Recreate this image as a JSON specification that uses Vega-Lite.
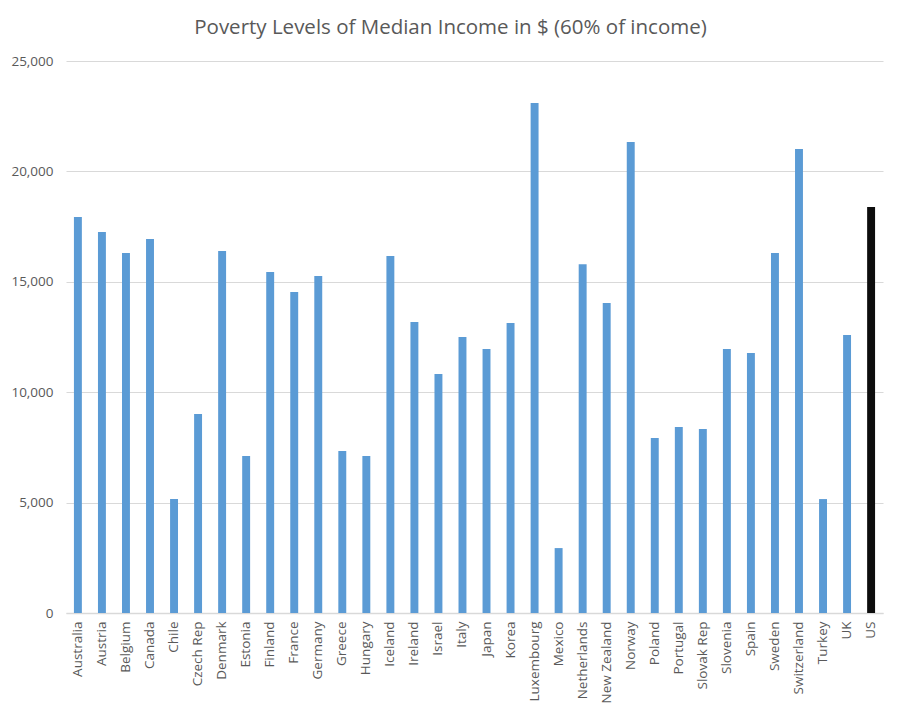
{
  "$schema": "https://vega.github.io/schema/vega-lite/v6.json",
  "autosize": {"type": "none"},
  "padding": {"left": 66, "top": 61, "right": 17, "bottom": 107},
  "width": 817,
  "height": 552,
  "background": "white",
  "title": {
    "text": "Poverty Levels of Median Income in $ (60% of income)",
    "font": "Open Sans",
    "fontSize": 20.5,
    "fontWeight": "normal",
    "color": "#595959",
    "anchor": "middle",
    "dx": -24,
    "offset": 16
  },
  "config": {
    "view": {"stroke": null},
    "axis": {"labelFont": "Open Sans", "labelColor": "#595959", "labelFontSize": 13.5}
  },
  "data": {
    "values": [
      {"country": "Australia", "value": 17930},
      {"country": "Austria", "value": 17260},
      {"country": "Belgium", "value": 16300},
      {"country": "Canada", "value": 16940},
      {"country": "Chile", "value": 5160},
      {"country": "Czech Rep", "value": 9010},
      {"country": "Denmark", "value": 16400},
      {"country": "Estonia", "value": 7110},
      {"country": "Finland", "value": 15440},
      {"country": "France", "value": 14540},
      {"country": "Germany", "value": 15260},
      {"country": "Greece", "value": 7340},
      {"country": "Hungary", "value": 7110},
      {"country": "Iceland", "value": 16170},
      {"country": "Ireland", "value": 13180},
      {"country": "Israel", "value": 10820},
      {"country": "Italy", "value": 12500},
      {"country": "Japan", "value": 11960},
      {"country": "Korea", "value": 13130},
      {"country": "Luxembourg", "value": 23100},
      {"country": "Mexico", "value": 2940},
      {"country": "Netherlands", "value": 15800},
      {"country": "New Zealand", "value": 14040},
      {"country": "Norway", "value": 21330},
      {"country": "Poland", "value": 7930},
      {"country": "Portugal", "value": 8420},
      {"country": "Slovak Rep", "value": 8330},
      {"country": "Slovenia", "value": 11960},
      {"country": "Spain", "value": 11780},
      {"country": "Sweden", "value": 16300},
      {"country": "Switzerland", "value": 21010},
      {"country": "Turkey", "value": 5160},
      {"country": "UK", "value": 12590},
      {"country": "US", "value": 18390}
    ]
  },
  "mark": {"type": "bar"},
  "encoding": {
    "x": {
      "field": "country",
      "type": "nominal",
      "sort": null,
      "scale": {"paddingInner": 0.67, "paddingOuter": 0.33},
      "axis": {
        "title": null,
        "labelAngle": -90,
        "ticks": false,
        "domainColor": "#d9d9d9",
        "domainWidth": 1.5,
        "labelPadding": 8
      }
    },
    "y": {
      "field": "value",
      "type": "quantitative",
      "scale": {"domain": [0, 25000]},
      "axis": {
        "title": null,
        "values": [0, 5000, 10000, 15000, 20000, 25000],
        "format": ",.0f",
        "domain": false,
        "ticks": false,
        "gridColor": "#d9d9d9",
        "gridWidth": 1.2,
        "labelPadding": 13
      }
    },
    "color": {
      "condition": {"test": "datum.country === 'US'", "value": "#0d0d0d"},
      "value": "#5b9bd5"
    }
  }
}
